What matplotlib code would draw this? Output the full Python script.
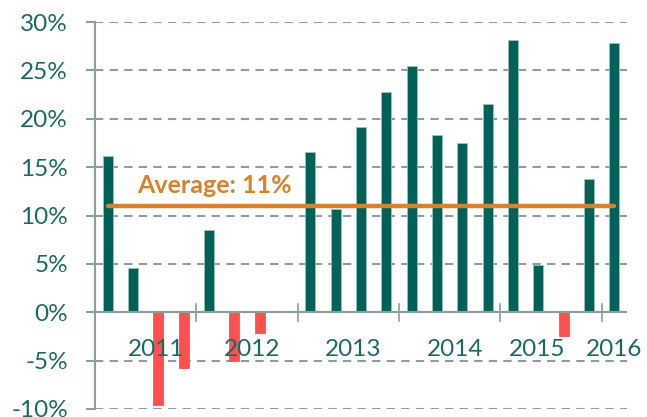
import matplotlib.pyplot as plt
from matplotlib.ticker import FuncFormatter

# Données trimestrielles 2011 T1 -> 2016 T1 (rendement, %)
returns = [16.1, 4.6, -9.6, -5.8,
           8.5, -5.0, -2.1, 0.0,
           16.6, 10.7, 19.2, 22.8,
           25.5, 18.3, 17.5, 21.5,
           28.1, 4.9, -2.45, 13.8,
           27.8]
years = ['2011', '2012', '2013', '2014', '2015', '2016']
year_pos = [1.9, 5.7, 9.7, 13.7, 16.95, 20.0]
average = 11

teal = '#006159'
red = '#FF5050'
orange = '#D9822B'
grid_col = '#8E9E9B'
text_col = '#1B6A62'

plt.rcParams['font.family'] = ['Lato', 'DejaVu Sans']

fig = plt.figure(figsize=(6.47, 4.17), dpi=100)
ax = fig.add_axes([0.147, 0.0192, 0.822, 0.928])

x = list(range(len(returns)))
colors = [teal if v >= 0 else red for v in returns]
edges = ['#9CC3BE' if v >= 0 else red for v in returns]
ax.bar(x, returns, width=0.4, color=colors, edgecolor=edges, linewidth=0.6, zorder=3)

# Ligne de moyenne
ax.plot([0, 20], [average, average], color=orange, linewidth=3.2,
        solid_capstyle='round', zorder=4)
ax.text(1.15, 13.1, f'Average: {average}%', color=orange, fontsize=18,
        fontweight='bold', va='center', ha='left', zorder=5)

ax.set_xlim(-0.5, 20.5)
ax.set_ylim(-10, 30)
ax.set_yticks(range(-10, 31, 5))
ax.yaxis.set_major_formatter(FuncFormatter(lambda v, p: f'{v:.0f}%'))
ax.grid(axis='y', color=grid_col, linestyle=(0, (4, 3)), linewidth=1.5, zorder=1)

for s in ['top', 'right', 'bottom']:
    ax.spines[s].set_visible(False)
ax.spines['left'].set_color(grid_col)
ax.spines['left'].set_linewidth(1.5)

ax.tick_params(axis='y', colors=grid_col, length=6.5, width=1.5, pad=13,
               labelcolor=text_col, labelsize=17.5)
ax.set_xticks([])

# Axe des abscisses à 0 avec séparateurs d'années
ax.axhline(0, color=grid_col, linewidth=1.5, zorder=4)
for b in [3.5, 7.5, 11.5, 15.5, 19.5]:
    ax.plot([b, b], [-0.9, 0.9], color=grid_col, linewidth=1.2, zorder=4)

for yr, pos in zip(years, year_pos):
    ax.text(pos, -3.9, yr, color=text_col, fontsize=17.5, ha='center', va='center', zorder=5)

fig.savefig('out.png', dpi=100)
